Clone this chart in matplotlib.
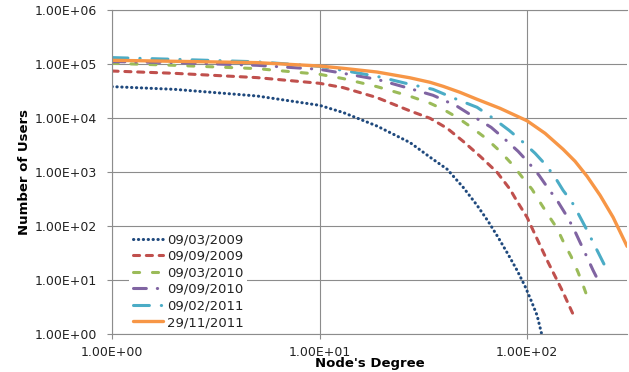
import matplotlib
matplotlib.use("Agg")
import matplotlib.pyplot as plt
from matplotlib.ticker import FuncFormatter, FixedLocator, NullLocator

labels = ["09/03/2009", "09/09/2009", "09/03/2010", "09/09/2010", "09/02/2011", "29/11/2011"]

deg_0903_2009 = [1, 2, 5, 10, 13.0, 18.9, 27.3, 34.1, 41.2, 49.2, 57.4, 64.9, 72.5, 81.0, 89.5, 97.8, 104.5, 111.7, 118]
users_0903_2009 = [3.86e4, 3.44e4, 2.59e4, 1.74e4, 1.28e4, 7.2e3, 3.55e3, 1.9e3, 1.14e3, 528, 245, 124, 62.6, 30.3, 15.3, 7.74, 4.26, 2.25, 0.958]

deg_0909_2009 = [1, 2, 5, 10, 13.0, 18.9, 27.3, 34.1, 41.2, 49.2, 59.4, 71.7, 82.8, 89.5, 100, 106.9, 115.5, 126.3, 138, 149.1, 157.6, 166.6]
users_0909_2009 = [7.51e4, 6.81e4, 5.67e4, 4.45e4, 3.70e4, 2.42e4, 1.37e4, 1.0e4, 6.53e3, 3.75e3, 1.98e3, 1.0e3, 484, 290, 147, 84.3, 44.5, 21.5, 10.9, 6.0, 3.75, 2.35]

deg_0903_2010 = [1, 2, 5, 10, 13.0, 18.9, 27.3, 34.1, 39.4, 46.0, 53.1, 63.4, 74.1, 85.6, 95.7, 105.7, 115.5, 127.6, 139.5, 150.8, 162.9, 176.1, 186.2, 194.6]
users_0903_2010 = [1.043e5, 9.58e4, 8.32e4, 6.53e4, 5.44e4, 3.86e4, 2.56e4, 1.90e4, 1.47e4, 1.04e4, 7.11e3, 4.26e3, 2.45e3, 1.35e3, 774, 484, 278, 153, 91.8, 48.4, 27.8, 14.1, 8.08, 5.05]

deg_0909_2010 = [1, 2, 5, 10, 13.0, 18.9, 27.3, 35.2, 38.9, 46.0, 54.9, 67.1, 78.3, 90.5, 102.3, 114.2, 126.3, 139.5, 152.5, 166.6, 180.0, 194.6, 208.0, 215.0]
users_0909_2010 = [1.122e5, 1.075e5, 9.58e4, 8.08e4, 6.81e4, 5.27e4, 3.55e4, 2.67e4, 2.25e4, 1.67e4, 1.09e4, 6.81e3, 4.08e3, 2.45e3, 1.47e3, 880, 505, 303, 174, 95.8, 50.5, 26.7, 15.3, 11.9]

deg_0902_2011 = [1, 2, 5, 10, 18.9, 27.3, 35.2, 44.5, 57.4, 68.6, 81.9, 94.6, 109.3, 123.5, 136.4, 149.1, 164.8, 176.1, 194.6, 208.0, 227.3, 240.3]
users_0902_2011 = [1.331e5, 1.238e5, 1.113e5, 9.18e4, 5.99e4, 4.26e4, 3.44e4, 2.35e4, 1.60e4, 1.0e4, 5.99e3, 3.75e3, 2.25e3, 1.35e3, 808, 464, 278, 174, 84.3, 50.5, 25.6, 16.7]

deg_2911_2011 = [1, 2, 5, 10, 13.0, 18.9, 27.3, 34.1, 39.4, 47.5, 57.4, 74.1, 100, 122.1, 149.1, 170.3, 194.6, 224.8, 259.7, 303.3]
users_2911_2011 = [1.186e5, 1.137e5, 1.075e5, 9.30e4, 8.43e4, 7.20e4, 5.62e4, 4.64e4, 3.91e4, 3.03e4, 2.25e4, 1.53e4, 8.99e3, 5.27e3, 2.67e3, 1.60e3, 843, 375, 147, 42.6]

x_ticks = [1, 10, 100]
y_ticks = [1, 10, 100, 1e3, 1e4, 1e5, 1e6]

series = [
    (deg_0903_2009, users_0903_2009, "#1F497D", (0, (0.1, 1.5)), 2.2),
    (deg_0909_2009, users_0909_2009, "#C0504D", (0, (2.0, 2.2)), 2.2),
    (deg_0903_2010, users_0903_2010, "#9BBB59", (0, (2.0, 4.2)), 2.2),
    (deg_0909_2010, users_0909_2010, "#8064A2", (0, (4.2, 3.6, 0.1, 3.6)), 2.2),
    (deg_0902_2011, users_0902_2011, "#4BACC6", (0, (5.2, 3.9, 0.1, 3.9)), 2.2),
    (deg_2911_2011, users_2911_2011, "#F79646", "-", 2.4),
]

plt.rcParams['font.family'] = ['DejaVu Sans']
fig = plt.figure(figsize=(6.29, 3.72), dpi=100)
ax = fig.add_axes([0.1781, 0.1013, 0.8187, 0.871])

for (xs, ys, c, ls, lw), lab in zip(series, labels):
    ax.plot(xs, ys, color=c, linestyle=ls, linewidth=lw, label=lab,
            dash_capstyle="round", solid_capstyle="round", solid_joinstyle="round")

ax.set_xscale("log")
ax.set_yscale("log")
ax.set_xlim(1, 303)
ax.set_ylim(1, 1e6)

ax.xaxis.set_major_locator(FixedLocator(x_ticks))
ax.yaxis.set_major_locator(FixedLocator(y_ticks))
ax.xaxis.set_minor_locator(NullLocator())
ax.yaxis.set_minor_locator(NullLocator())
fmt = FuncFormatter(lambda v, p: f"{v:.2E}")
ax.xaxis.set_major_formatter(fmt)
ax.yaxis.set_major_formatter(fmt)

gcol = "#8c8c8c"
ax.grid(True, which="major", color=gcol, linewidth=0.8)
ax.set_axisbelow(True)
ax.spines["right"].set_visible(False)
for s in ["left", "bottom", "top"]:
    ax.spines[s].set_color(gcol)
    ax.spines[s].set_linewidth(0.8)

ax.tick_params(axis="y", direction="out", length=3.6, width=0.8, color=gcol,
               labelsize=9, pad=7, labelcolor="#222222")
ax.tick_params(axis="x", direction="out", length=3.6, width=0.8, color=gcol,
               labelsize=9, pad=4.5, labelcolor="#222222")

ax.set_xlabel("Node's Degree", fontsize=9.5, fontweight="bold", va="center")
ax.xaxis.set_label_coords(0.5, -0.0895)
ax.set_ylabel("Number of Users", fontsize=9.5, fontweight="bold", va="center")
ax.yaxis.set_label_coords(-0.17, 0.5)

leg = ax.legend(loc="upper left", bbox_to_anchor=(0.0324, 0.324), fontsize=9.5,
                frameon=True, framealpha=1, facecolor="white", edgecolor="none",
                borderpad=0.3, borderaxespad=0, labelspacing=0.27,
                handlelength=2.3, handletextpad=0.28, fancybox=False)
for t in leg.get_texts():
    t.set_color("#222222")

fig.savefig("out.png", dpi=100)
